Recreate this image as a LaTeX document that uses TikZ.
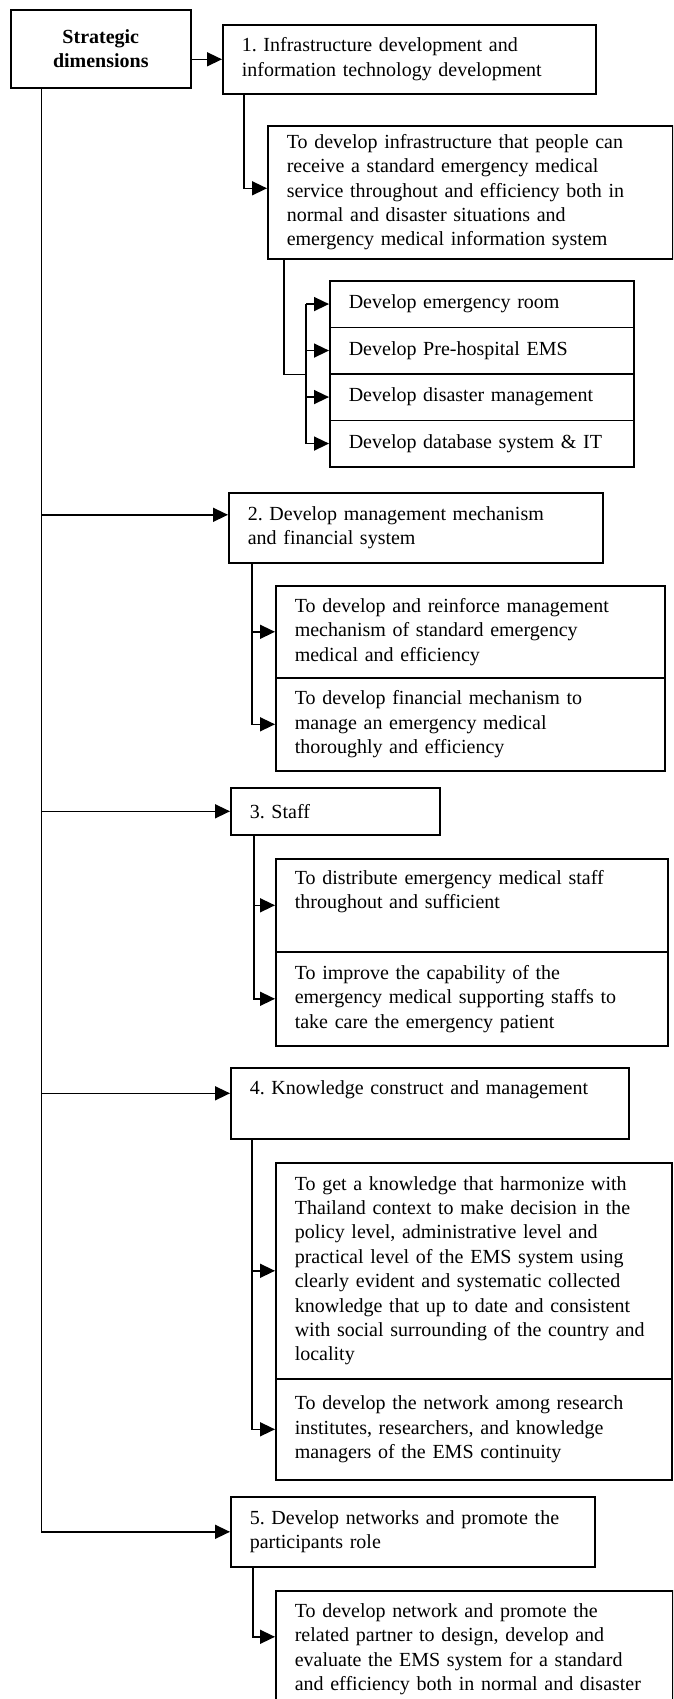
\documentclass[tikz,border=0pt]{standalone}
\usepackage{fontspec}
\setmainfont{Liberation Serif}
\usetikzlibrary{arrows.meta}
\frenchspacing

\begin{document}
\begin{tikzpicture}[x=1pt, y=-1pt,
        box/.style={draw, line width=1.6pt, anchor=north west, align=left, inner xsep=19pt, inner ysep=0pt, font=\fontsize{20}{24.4}\selectfont},
        link/.style={line width=1.5pt},
        arr/.style={link, -{Triangle[length=15pt,width=14pt]}}]
        \useasboundingbox (0,0) rectangle (673,1699);
        \clip (0,0) rectangle (673,1699);

        % Draw nodes
        \node[box, align=center, text width=142pt, minimum height=78pt, font=\fontsize{20}{24}\selectfont\bfseries] (strat) at (10,9) {Strategic\\dimensions};

        \node[box, text width=335pt, minimum height=69pt] (box1) at (222,24) {1. Infrastructure development and\\information technology development};
        \node[box, text width=367pt, minimum height=133pt] (sub1) at (267,125) {To develop infrastructure that people can\\receive a standard emergency medical\\service throughout and efficiency both in\\normal and disaster situations and\\emergency medical information system};
        \node[box, text width=266pt, minimum height=46.5pt] (dev1) at (329,280) {Develop emergency room};
        \node[box, text width=266pt, minimum height=46.5pt] (dev2) at (329,326.5) {Develop Pre-hospital EMS};
        \node[box, text width=266pt, minimum height=46.5pt] (dev3) at (329,373) {Develop disaster management};
        \node[box, text width=266pt, minimum height=46.5pt] (dev4) at (329,419.5) {Develop database system \& IT};

        \node[box, text width=336pt, minimum height=70pt] (box2) at (228,492) {2. Develop management mechanism\\and financial system};
        \node[box, text width=351pt, minimum height=92pt] (sub2a) at (275,585) {To develop and reinforce management\\mechanism of standard emergency\\medical and efficiency};
        \node[box, text width=351pt, minimum height=93pt] (sub2b) at (275,677) {To develop financial mechanism to\\manage an emergency medical\\thoroughly and efficiency};

        \node[box, text width=171pt, minimum height=47pt] (box3) at (230,787) {3. Staff};
        \node[box, text width=354pt, minimum height=93pt] (sub3a) at (275,858) {To distribute emergency medical staff\\throughout and sufficient\\\strut};
        \node[box, text width=354pt, minimum height=94pt] (sub3b) at (275,951) {To improve the capability of the\\emergency medical supporting staffs to\\take care the emergency patient};

        \node[box, text width=360pt, minimum height=71pt] (box4) at (230,1067) {4. Knowledge construct and management\\\strut};
        \node[box, text width=358pt, minimum height=216pt] (sub4a) at (275,1162) {To get a knowledge that harmonize with\\Thailand context to make decision in the\\policy level, administrative level and\\practical level of the EMS system using\\clearly evident and systematic collected\\knowledge that up to date and consistent\\with social surrounding of the country and\\locality};
        \node[box, text width=358pt, minimum height=101pt] (sub4b) at (275,1378) {To develop the network among research\\institutes, researchers, and knowledge\\managers of the EMS continuity};

        \node[box, text width=326pt, minimum height=70pt] (box5) at (230,1496) {5. Develop networks and promote the\\participants role};
        \node[box, text width=359pt, minimum height=117pt] (sub5) at (275,1590) {To develop network and promote the\\related partner to design, develop and\\evaluate the EMS system for a standard\\and efficiency both in normal and disaster};

        % Connection points
        \coordinate (spine) at ([xshift=31.5pt]strat.south west);
        \coordinate (in1) at ([yshift=4pt]sub1.west);
        \coordinate (in2) at ([yshift=13pt]box2.west);
        \coordinate (in4) at ([yshift=10pt]box4.west);
        \coordinate (in5) at ([yshift=12.5pt]sub5.west);
        \coordinate (bus) at ([xshift=-23pt]dev2.south west);

        % Draw connections
        \draw[arr] (strat.east |- box1.west) -- (box1.west);
        \draw[arr] (spine) |- (box5.west);
        \draw[arr] (spine |- in2) -- (in2);
        \draw[arr] (spine |- box3.west) -- (box3.west);
        \draw[arr] (spine |- in4) -- (in4);

        \draw[arr] ([xshift=22pt]box1.south west) |- (in1);
        \draw[link] ([xshift=17pt]sub1.south west) |- (bus);
        \draw[link] (bus |- dev1.west) -- (bus |- dev4.west);
        \foreach \d in {dev1,dev2,dev3,dev4}
            \draw[arr] (bus |- \d.west) -- (\d.west);

        \draw[arr] ([xshift=24pt]box2.south west) |- (sub2a.west);
        \draw[arr] ([xshift=24pt]box2.south west) |- (sub2b.west);

        \draw[arr] ([xshift=24pt]box3.south west) |- (sub3a.west);
        \draw[arr] ([xshift=24pt]box3.south west) |- (sub3b.west);

        \draw[arr] ([xshift=22pt]box4.south west) |- (sub4a.west);
        \draw[arr] ([xshift=22pt]box4.south west) |- (sub4b.west);

        \draw[arr] ([xshift=23pt]box5.south west) |- (in5);
    \end{tikzpicture}
\end{document}
